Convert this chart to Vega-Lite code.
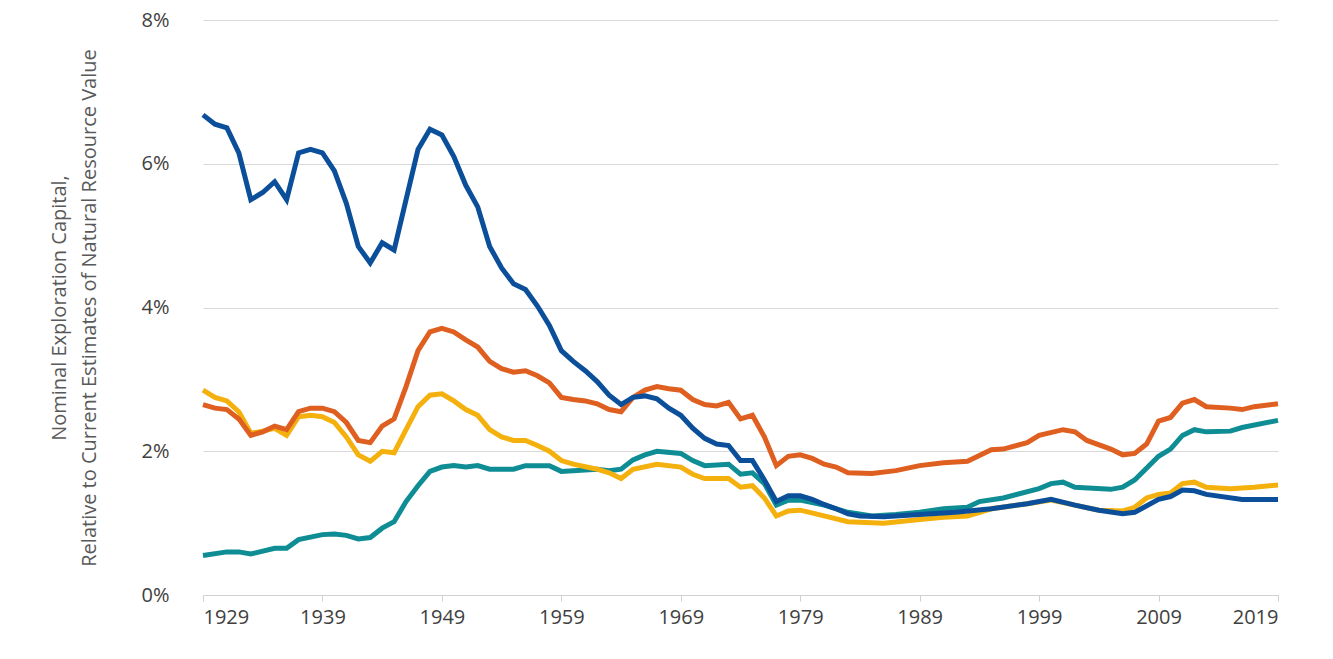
{
  "$schema": "https://vega.github.io/schema/vega-lite/v6.json",
  "width": 1075,
  "height": 575,
  "autosize": "none",
  "padding": {"left": 203, "top": 20, "right": 55, "bottom": 64},
  "background": "white",
  "config": {"view": {"stroke": null}, "font": "Open Sans"},
  "datasets": {
    "blue": [[1929,6.68],[1930,6.55],[1931,6.5],[1932,6.15],[1933,5.5],[1934,5.6],[1935,5.75],[1936,5.5],[1937,6.15],[1938,6.2],[1939,6.15],[1940,5.9],[1941,5.45],[1942,4.85],[1943,4.62],[1944,4.9],[1945,4.8],[1946,5.5],[1947,6.2],[1948,6.48],[1949,6.4],[1950,6.1],[1951,5.7],[1952,5.4],[1953,4.85],[1954,4.55],[1955,4.33],[1956,4.25],[1957,4.02],[1958,3.75],[1959,3.4],[1960,3.25],[1961,3.12],[1962,2.97],[1963,2.78],[1964,2.65],[1965,2.75],[1966,2.77],[1967,2.73],[1968,2.6],[1969,2.5],[1970,2.32],[1971,2.18],[1972,2.1],[1973,2.08],[1974,1.87],[1975,1.87],[1976,1.6],[1977,1.3],[1978,1.38],[1979,1.38],[1980,1.33],[1981,1.26],[1982,1.2],[1983,1.13],[1984,1.1],[1986,1.09],[1989,1.12],[1992,1.15],[1995,1.2],[1998,1.27],[2000,1.33],[2002,1.25],[2004,1.18],[2006,1.13],[2007,1.15],[2009,1.33],[2010,1.37],[2011,1.46],[2012,1.45],[2013,1.4],[2016,1.33],[2019,1.33]],
    "orange": [[1929,2.65],[1930,2.6],[1931,2.58],[1932,2.45],[1933,2.22],[1934,2.27],[1935,2.35],[1936,2.3],[1937,2.55],[1938,2.6],[1939,2.6],[1940,2.55],[1941,2.4],[1942,2.15],[1943,2.12],[1944,2.35],[1945,2.45],[1946,2.9],[1947,3.4],[1948,3.66],[1949,3.71],[1950,3.66],[1951,3.55],[1952,3.45],[1953,3.25],[1954,3.15],[1955,3.1],[1956,3.12],[1957,3.05],[1958,2.95],[1959,2.75],[1960,2.72],[1961,2.7],[1962,2.66],[1963,2.58],[1964,2.55],[1965,2.75],[1966,2.85],[1967,2.9],[1968,2.87],[1969,2.85],[1970,2.72],[1971,2.65],[1972,2.63],[1973,2.68],[1974,2.45],[1975,2.5],[1976,2.2],[1977,1.8],[1978,1.93],[1979,1.95],[1980,1.9],[1981,1.82],[1982,1.78],[1983,1.7],[1985,1.69],[1987,1.73],[1989,1.8],[1991,1.84],[1993,1.86],[1995,2.02],[1996,2.03],[1998,2.12],[1999,2.22],[2001,2.3],[2002,2.27],[2003,2.15],[2005,2.03],[2006,1.95],[2007,1.97],[2008,2.1],[2009,2.42],[2010,2.47],[2011,2.67],[2012,2.72],[2013,2.62],[2015,2.6],[2016,2.58],[2017,2.62],[2019,2.66]],
    "yellow": [[1929,2.85],[1930,2.75],[1931,2.7],[1932,2.55],[1933,2.25],[1934,2.28],[1935,2.32],[1936,2.22],[1937,2.48],[1938,2.5],[1939,2.48],[1940,2.4],[1941,2.2],[1942,1.95],[1943,1.86],[1944,2.0],[1945,1.98],[1946,2.3],[1947,2.62],[1948,2.78],[1949,2.8],[1950,2.7],[1951,2.58],[1952,2.5],[1953,2.3],[1954,2.2],[1955,2.15],[1956,2.15],[1957,2.08],[1958,2.0],[1959,1.87],[1960,1.82],[1962,1.75],[1963,1.7],[1964,1.62],[1965,1.75],[1967,1.82],[1969,1.78],[1970,1.68],[1971,1.62],[1973,1.62],[1974,1.5],[1975,1.52],[1976,1.35],[1977,1.1],[1978,1.17],[1979,1.18],[1981,1.1],[1983,1.02],[1986,1.0],[1989,1.05],[1991,1.08],[1993,1.1],[1995,1.2],[1998,1.27],[2000,1.32],[2002,1.25],[2004,1.18],[2006,1.17],[2007,1.22],[2008,1.35],[2009,1.4],[2010,1.42],[2011,1.55],[2012,1.57],[2013,1.5],[2015,1.48],[2017,1.5],[2019,1.53]],
    "teal": [[1929,0.55],[1931,0.6],[1932,0.6],[1933,0.57],[1935,0.65],[1936,0.65],[1937,0.77],[1939,0.84],[1940,0.85],[1941,0.83],[1942,0.78],[1943,0.8],[1944,0.93],[1945,1.02],[1946,1.3],[1947,1.52],[1948,1.72],[1949,1.78],[1950,1.8],[1951,1.78],[1952,1.8],[1953,1.75],[1955,1.75],[1956,1.8],[1958,1.8],[1959,1.72],[1962,1.75],[1963,1.73],[1964,1.75],[1965,1.88],[1966,1.95],[1967,2.0],[1969,1.97],[1970,1.87],[1971,1.8],[1973,1.82],[1974,1.68],[1975,1.7],[1976,1.55],[1977,1.25],[1978,1.32],[1979,1.32],[1981,1.25],[1983,1.15],[1985,1.1],[1987,1.12],[1989,1.15],[1991,1.2],[1993,1.22],[1994,1.3],[1996,1.35],[1999,1.48],[2000,1.55],[2001,1.57],[2002,1.5],[2005,1.47],[2006,1.5],[2007,1.6],[2009,1.93],[2010,2.03],[2011,2.22],[2012,2.3],[2013,2.27],[2015,2.28],[2016,2.33],[2019,2.43]]
  },
  "encoding": {
    "x": {"field": "0", "type": "quantitative", "scale": {"domain": [1929, 2019], "nice": false},
      "axis": {"values": [1929,1939,1949,1959,1969,1979,1989,1999,2009,2019], "format": "d", "title": null, "grid": false,
        "labelFontSize": 20, "labelColor": "#404040", "domainColor": "#d0d0d0", "tickColor": "#d0d0d0", "tickSize": 6, "labelPadding": 6}},
    "y": {"field": "1", "type": "quantitative", "scale": {"domain": [0, 8]},
      "axis": {"values": [0,2,4,6,8], "labelExpr": "datum.value + '%'", "domain": false, "ticks": false,
        "gridColor": "#d9d9d9", "labelFontSize": 20, "labelColor": "#404040", "labelPadding": 34,
        "title": ["Nominal Exploration Capital,", "Relative to Current Estimates of Natural Resource Value"],
        "titleFontSize": 20, "titleFontWeight": "normal", "titleColor": "#595959", "titlePadding": 42, "titleLineHeight": 30}}
  },
  "layer": [
    {"data": {"name": "teal"}, "mark": {"type": "line", "color": "#0f8d94", "strokeWidth": 5}},
    {"data": {"name": "yellow"}, "mark": {"type": "line", "color": "#f4b00c", "strokeWidth": 5}},
    {"data": {"name": "orange"}, "mark": {"type": "line", "color": "#de5f1f", "strokeWidth": 5}},
    {"data": {"name": "blue"}, "mark": {"type": "line", "color": "#0b4f9a", "strokeWidth": 5}}
  ]
}
